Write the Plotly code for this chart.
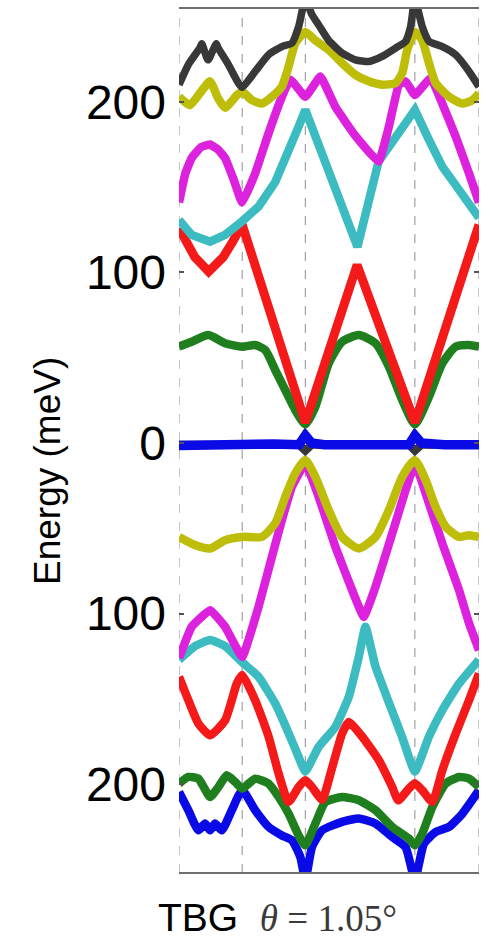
import plotly.graph_objects as go

# k-path node positions (left edge, interior high-symmetry points, right edge)
K_NODES = [0.0, 1.0, 2.0, 3.735, 4.75]

# Energy tick positions and their printed labels (meV)
Y_TICKS = [-200, -100, 0, 100, 200]
Y_TICK_TEXT = ["200", "100", "0", "100", "200"]

# ---- valence bands, bottom to top: (k, E in meV) ----
VB1_BLUE = [(0, -204.5), (0.148, -215.2), (0.307, -227), (0.413, -223), (0.492, -227),
            (0.571, -223), (0.677, -227), (0.836, -215.2), (1.0, -203.5), (1.206, -215.2),
            (1.418, -225), (1.630, -230), (1.788, -232.8), (1.921, -242.6), (2.0, -256),
            (2.106, -236.8), (2.265, -227), (2.582, -222), (2.847, -220), (3.111, -223),
            (3.376, -230.9), (3.587, -236.8), (3.735, -256), (3.878, -234.8), (4.063, -228),
            (4.275, -225), (4.487, -217.2), (4.75, -203.5)]
VB2_GREEN = [(0, -199.6), (0.148, -195.7), (0.307, -196.7), (0.492, -207.4), (0.624, -201.6),
             (0.757, -194.7), (0.889, -198.6), (1.0, -202.5), (1.206, -196.7), (1.418, -199.6),
             (1.577, -207.4), (1.735, -217.2), (1.894, -230), (2.0, -235.8), (2.159, -223),
             (2.317, -210.4), (2.582, -207.4), (2.847, -209.4), (3.111, -215.2), (3.376, -225),
             (3.640, -231.8), (3.735, -235.8), (3.852, -228.9), (4.011, -213.3), (4.222, -199.6),
             (4.434, -195.7), (4.593, -196.7), (4.75, -201.6)]
VB3_RED = [(0, -137), (0.148, -150.7), (0.307, -164.4), (0.492, -171.3), (0.730, -162.5),
           (0.915, -141), (1.0, -136), (1.206, -150.7), (1.418, -172), (1.577, -193.7),
           (1.735, -210.4), (1.894, -201.6), (2.0, -197.7), (2.106, -201.6), (2.265, -209),
           (2.423, -190.5), (2.582, -170.3), (2.688, -163.5), (2.899, -172), (3.164, -185.9),
           (3.376, -201.6), (3.470, -209.4), (3.640, -202.5), (3.735, -199.4), (3.852, -203.5),
           (4.011, -210.4), (4.169, -191.8), (4.381, -170.3), (4.593, -150.7), (4.75, -135.1)]
VB4_CYAN = [(0, -127), (0.254, -119), (0.492, -115.5), (0.730, -119), (1.0, -128.4),
            (1.259, -137), (1.524, -152.7), (1.735, -170), (1.894, -184), (2.0, -192.5),
            (2.212, -178), (2.476, -166.4), (2.688, -148.8), (2.847, -125.3), (2.952, -107.7),
            (3.111, -131), (3.323, -152), (3.534, -172.4), (3.735, -192.5), (3.958, -172),
            (4.169, -156.6), (4.434, -141), (4.75, -127)]
VB5_MAGENTA = [(0, -126), (0.201, -107.7), (0.492, -98), (0.730, -107.7), (1.0, -125.3),
               (1.259, -96), (1.471, -66.7), (1.630, -45), (1.788, -25.6), (2.0, -12),
               (2.212, -31.5), (2.476, -60.8), (2.741, -86.2), (2.926, -101.9), (3.111, -84.3),
               (3.376, -53), (3.587, -27.6), (3.735, -12), (3.958, -35.4), (4.169, -58.8),
               (4.434, -86.2), (4.593, -105.7), (4.75, -121.4)]
VB6_YELLOW = [(0, -55), (0.254, -59.8), (0.492, -61.8), (0.730, -56.9), (1.0, -55),
              (1.312, -55), (1.524, -47), (1.683, -31.5), (1.841, -17.8), (2.0, -10),
              (2.159, -19.8), (2.370, -39.3), (2.582, -55), (2.847, -61.8), (3.111, -55),
              (3.323, -39.3), (3.534, -19.8), (3.735, -10), (3.905, -21.7), (4.063, -37.4),
              (4.222, -49), (4.434, -55), (4.593, -54), (4.75, -55)]

# ---- flat bands at charge neutrality ----
FB1_BLACK = [(0, -1), (1.9, -1), (2.0, -4.5), (2.1, -1), (3.64, -1), (3.735, -4.5),
             (3.84, -1), (4.75, -1)]
FB2_BLUE = [(0, -1.5), (0.5, -1), (1.0, -1.5), (1.5, -0.5), (1.9, -1), (2.0, 4.5),
            (2.1, 0), (2.3, -1), (2.87, -1), (3.5, -1.5), (3.64, -1), (3.735, 4.5),
            (3.84, 0), (4.2, -1), (4.75, -1)]

# ---- conduction bands, bottom to top ----
CB1_GREEN = [(0, 56.5), (0.201, 59.4), (0.466, 63.3), (0.730, 58.5), (1.0, 56.5),
             (1.206, 57.5), (1.365, 54.5), (1.524, 42.8), (1.683, 31), (1.841, 19.4),
             (2.0, 11), (2.159, 21.3), (2.370, 46.7), (2.582, 59.4), (2.847, 63.3),
             (3.111, 58.5), (3.323, 44.8), (3.534, 25.2), (3.735, 11), (3.958, 27.2),
             (4.169, 46.7), (4.381, 56.5), (4.593, 57.5), (4.75, 56.5)]
CB2_RED = [(0, 126), (0.1, 119), (0.25, 109), (0.47, 100.5), (0.7, 109), (0.85, 118),
           (1.0, 128), (2.0, 12), (2.820, 104.4), (3.735, 12), (4.75, 128)]
CB3_CYAN = [(0, 130.8), (0.201, 122), (0.492, 118), (0.730, 122), (1.0, 130),
            (1.259, 138.6), (1.524, 153), (1.735, 170), (1.894, 185.5), (2.0, 195.3),
            (2.825, 115), (3.16, 165), (3.45, 181), (3.735, 195.3),
            (3.958, 177.7), (4.169, 162), (4.434, 148.4), (4.593, 140.8), (4.75, 132)]
CB4_MAGENTA = [(0, 141), (0.1, 158), (0.2, 167), (0.35, 173.5), (0.49, 175), (0.62, 172),
               (0.73, 167), (0.86, 155), (1.0, 141), (1.206, 158), (1.418, 181.6),
               (1.630, 203), (1.762, 213), (2.0, 203), (2.238, 214.8), (2.476, 197),
               (2.794, 180), (3.16, 165), (3.323, 185.5), (3.481, 210), (3.587, 212),
               (3.735, 204), (3.984, 213.9), (4.169, 199), (4.381, 179.6), (4.593, 158),
               (4.75, 141)]
CB5_YELLOW = [(0, 203), (0.17, 198), (0.33, 205), (0.49, 212), (0.62, 202),
              (0.73, 196.5), (0.92, 204), (1.0, 206), (1.153, 201), (1.312, 199),
              (1.471, 203), (1.630, 209), (1.735, 220.7), (1.841, 234.4), (2.0, 241),
              (2.159, 236), (2.370, 230.5), (2.582, 222.7), (2.794, 215.8), (3.005, 212),
              (3.217, 210), (3.429, 211), (3.534, 216.8), (3.614, 230.5), (3.735, 241),
              (3.852, 236), (3.958, 222.7), (4.063, 211), (4.275, 203), (4.487, 199),
              (4.646, 201), (4.75, 205)]
CB6_BLACK = [(0, 210), (0.15, 222), (0.33, 231.6), (0.36, 234), (0.46, 224.6), (0.59, 234),
             (0.62, 231.6), (0.78, 222), (0.94, 211), (1.0, 208.5), (1.206, 217.8),
             (1.418, 227.6), (1.630, 232.4), (1.788, 234.4), (1.894, 244), (2.0, 260),
             (2.106, 251), (2.212, 245), (2.370, 236), (2.582, 228.6), (2.794, 224.6),
             (3.005, 223.6), (3.217, 226.6), (3.429, 231.5), (3.587, 235.4), (3.667, 244),
             (3.735, 260), (3.852, 244), (3.958, 235.4), (4.169, 232.4), (4.381, 227.6),
             (4.593, 217.8), (4.75, 208.8)]

# MATLAB-style colour cycle
C_BLUE = "#0a0ae6"
C_GREEN = "#1f7f1f"
C_RED = "#f41a1a"
C_CYAN = "#3cbcc0"
C_MAGENTA = "#dd22dd"
C_YELLOW = "#bdbd0a"
C_BLACK = "#383838"

# (band, colour, line width, smoothing); drawn in order, later bands on top
BANDS = [
    (VB1_BLUE, C_BLUE, 8.5, 0.5), (VB2_GREEN, C_GREEN, 8.5, 0.5),
    (VB3_RED, C_RED, 8.5, 0.5), (VB4_CYAN, C_CYAN, 8.5, 0.4),
    (VB5_MAGENTA, C_MAGENTA, 8.5, 0.3), (VB6_YELLOW, C_YELLOW, 8.5, 0.6),
    (FB1_BLACK, C_BLACK, 8, 0), (FB2_BLUE, C_BLUE, 9.5, 0),
    (CB1_GREEN, C_GREEN, 8.5, 0.6), (CB2_RED, C_RED, 9, 0),
    (CB3_CYAN, C_CYAN, 8.5, 0), (CB4_MAGENTA, C_MAGENTA, 8.5, 0.3),
    (CB5_YELLOW, C_YELLOW, 8.5, 0.5), (CB6_BLACK, C_BLACK, 7.5, 0.5),
]

fig = go.Figure()
for band, color, width, smooth in BANDS:
    line = dict(color=color, width=width)
    if smooth > 0:
        line.update(shape="spline", smoothing=smooth)
    fig.add_trace(go.Scatter(
        x=[p[0] for p in band], y=[p[1] for p in band],
        mode="lines", line=line, hoverinfo="skip", showlegend=False,
    ))

shapes = []
# dashed lines at the high-symmetry points
for kn in K_NODES:
    shapes.append(dict(type="line", xref="x", yref="paper", x0=kn, x1=kn, y0=0, y1=1,
                       line=dict(color="#8c8c96", width=1, dash="dash"), layer="below"))
# solid top and bottom frame
for yy in (0, 1):
    shapes.append(dict(type="line", xref="paper", yref="paper", x0=0, x1=1, y0=yy, y1=yy,
                       line=dict(color="#6e6e6e", width=2), layer="above"))

fig.update_layout(
    width=493, height=945,
    margin=dict(l=179, r=14, t=8, b=72),
    paper_bgcolor="white", plot_bgcolor="white",
    shapes=shapes,
    xaxis=dict(range=[K_NODES[0], K_NODES[-1]], showgrid=False, zeroline=False,
               showticklabels=False, ticks="", showline=False),
    yaxis=dict(range=[-252, 255], showgrid=False, zeroline=False, showline=False,
               tickmode="array", tickvals=Y_TICKS, ticktext=Y_TICK_TEXT,
               ticks="inside", ticklen=5, tickwidth=1.5, tickcolor="#555555",
               mirror="ticks", ticklabelstandoff=12,
               tickfont=dict(family="Liberation Sans, Arial, sans-serif", size=48,
                             color="black")),
    annotations=[
        dict(text="Energy (meV)", textangle=-90, xref="paper", yref="paper",
             x=(47 - 179) / 300, y=(873 - 471) / 865, xanchor="center", yanchor="middle",
             showarrow=False,
             font=dict(family="Liberation Sans, Arial, sans-serif", size=37, color="black")),
        dict(text="TBG\u00a0\u00a0<span style='font-family:Liberation Serif, serif; "
                  "font-size:37px; color:#3a3a3a'><i>θ</i> = 1.05°</span>",
             xref="paper", yref="paper", x=(277 - 179) / 300, y=(873 - 917) / 865,
             xanchor="center", yanchor="middle", showarrow=False,
             font=dict(family="Liberation Sans, Arial, sans-serif", size=39, color="black")),
    ],
)

fig.write_html("out.html")
